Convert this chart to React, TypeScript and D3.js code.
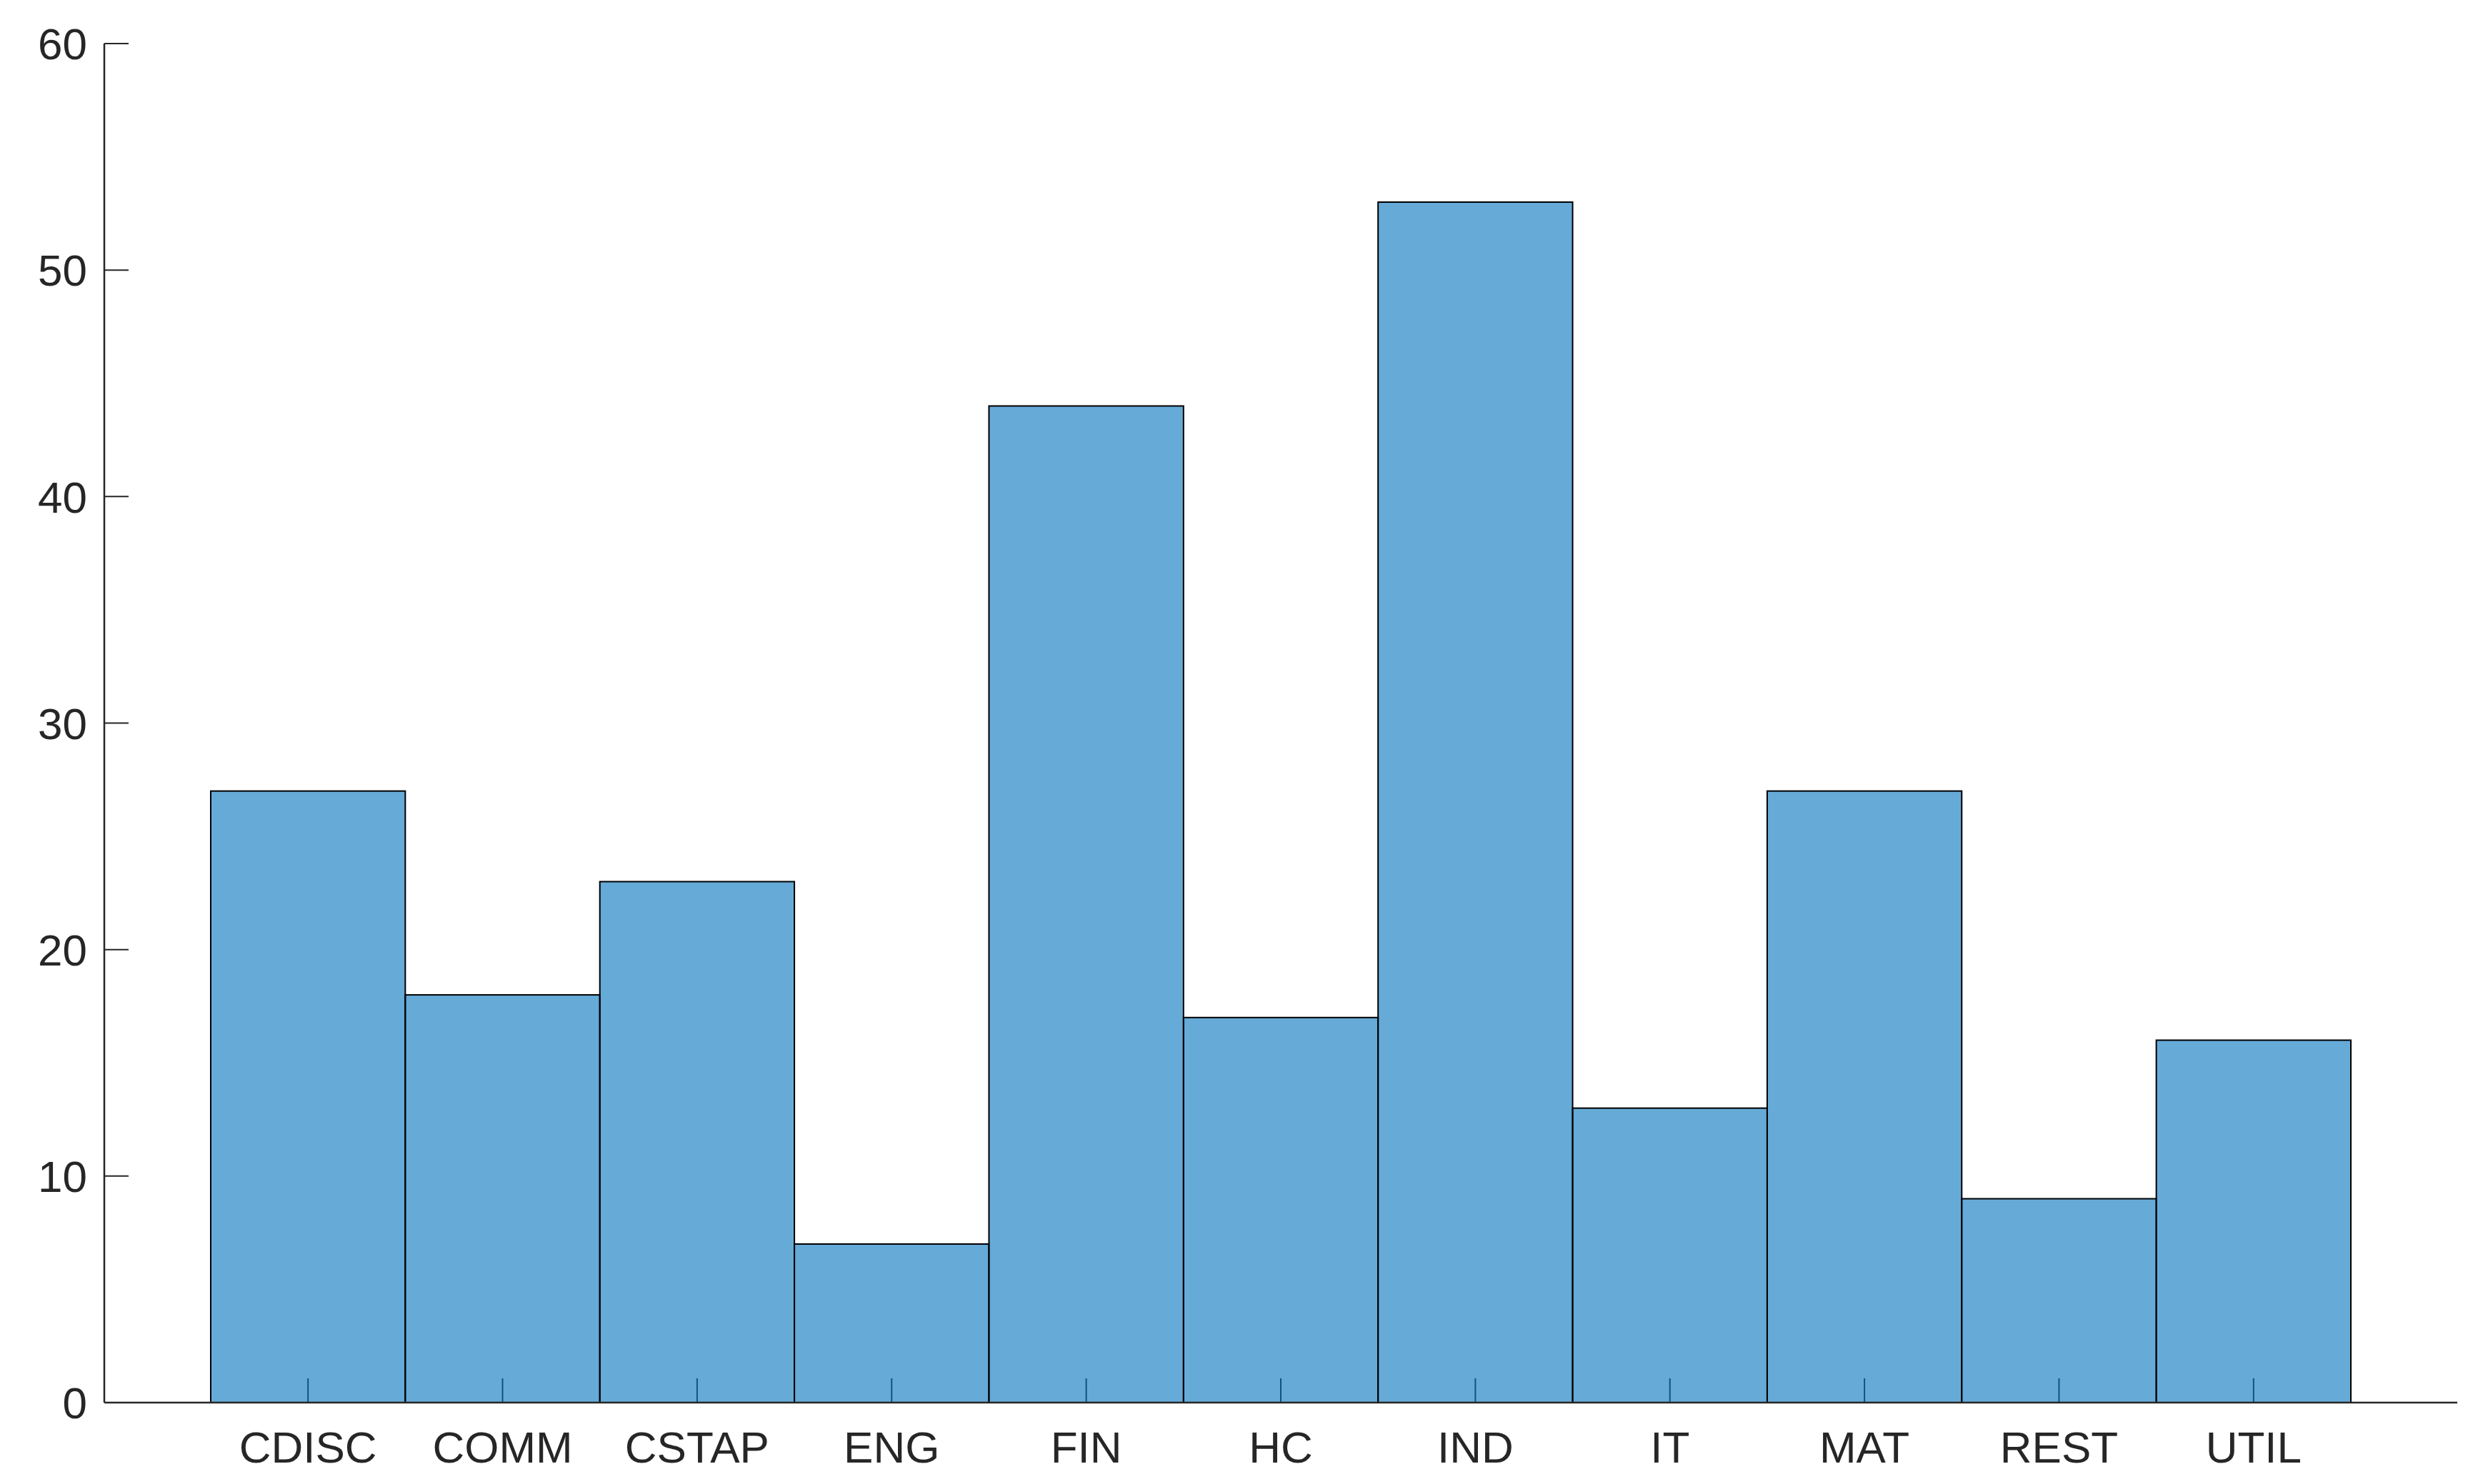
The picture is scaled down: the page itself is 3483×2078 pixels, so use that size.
import React, { useEffect, useRef } from 'react';
import * as d3 from 'd3';

// sector counts (categorical histogram)
const sectors = ['CDISC', 'COMM', 'CSTAP', 'ENG', 'FIN', 'HC', 'IND', 'IT', 'MAT', 'REST', 'UTIL'];
const counts = [27, 18, 23, 7, 44, 17, 53, 13, 27, 9, 16];
const yTicks = [0, 10, 20, 30, 40, 50, 60];

const W = 3483;
const H = 2078;
const margin = { left: 146, right: 43, top: 61, bottom: 114 };
const axisColor = '#262626';
const font = '"Liberation Sans", Arial, Helvetica, sans-serif';

export default function App() {
  const ref = useRef<SVGSVGElement>(null);

  useEffect(() => {
    const svg = d3.select(ref.current);
    svg.selectAll('*').remove();

    const x = d3.scaleBand<string>()
      .domain(sectors)
      .range([margin.left, W - margin.right])
      .paddingInner(0)
      .paddingOuter(0.547);
    const y = d3.scaleLinear()
      .domain([0, 60])
      .range([H - margin.bottom, margin.top]);

    const base = y(0);
    const tickLen = 34;

    // x ticks (inward), drawn under the translucent bars
    svg.append('g')
      .selectAll('line')
      .data(sectors)
      .enter()
      .append('line')
      .attr('x1', d => x(d)! + x.bandwidth() / 2)
      .attr('x2', d => x(d)! + x.bandwidth() / 2)
      .attr('y1', base)
      .attr('y2', base - tickLen)
      .attr('stroke', axisColor)
      .attr('stroke-width', 2);

    // y ticks (inward)
    svg.append('g')
      .selectAll('line')
      .data(yTicks)
      .enter()
      .append('line')
      .attr('x1', margin.left)
      .attr('x2', margin.left + tickLen)
      .attr('y1', d => y(d))
      .attr('y2', d => y(d))
      .attr('stroke', axisColor)
      .attr('stroke-width', 2);

    // bars
    svg.append('g')
      .selectAll('rect')
      .data(sectors)
      .enter()
      .append('rect')
      .attr('x', d => x(d)!)
      .attr('y', (d, i) => y(counts[i]))
      .attr('width', x.bandwidth())
      .attr('height', (d, i) => base - y(counts[i]))
      .attr('fill', 'rgb(0,114,189)')
      .attr('fill-opacity', 0.6)
      .attr('stroke', '#000')
      .attr('stroke-width', 2);

    // axis lines
    svg.append('line')
      .attr('x1', margin.left).attr('x2', margin.left)
      .attr('y1', y(60)).attr('y2', base)
      .attr('stroke', axisColor).attr('stroke-width', 2.5);
    svg.append('line')
      .attr('x1', margin.left).attr('x2', W - margin.right)
      .attr('y1', base).attr('y2', base)
      .attr('stroke', axisColor).attr('stroke-width', 2.5);

    // y tick labels
    svg.append('g')
      .selectAll('text')
      .data(yTicks)
      .enter()
      .append('text')
      .attr('x', margin.left - 24)
      .attr('y', d => y(d))
      .attr('dy', '0.36em')
      .attr('text-anchor', 'end')
      .style('font-family', font)
      .style('font-size', '62px')
      .attr('fill', axisColor)
      .text(d => d);

    // x tick labels
    svg.append('g')
      .selectAll('text')
      .data(sectors)
      .enter()
      .append('text')
      .attr('x', d => x(d)! + x.bandwidth() / 2)
      .attr('y', base + 84)
      .attr('text-anchor', 'middle')
      .style('font-family', font)
      .style('font-size', '62px')
      .attr('fill', axisColor)
      .text(d => d);
  }, []);

  return (
    <svg
      ref={ref}
      width={W}
      height={H}
      style={{ position: 'absolute', left: 0, top: 0, background: '#fff' }}
    />
  );
}
